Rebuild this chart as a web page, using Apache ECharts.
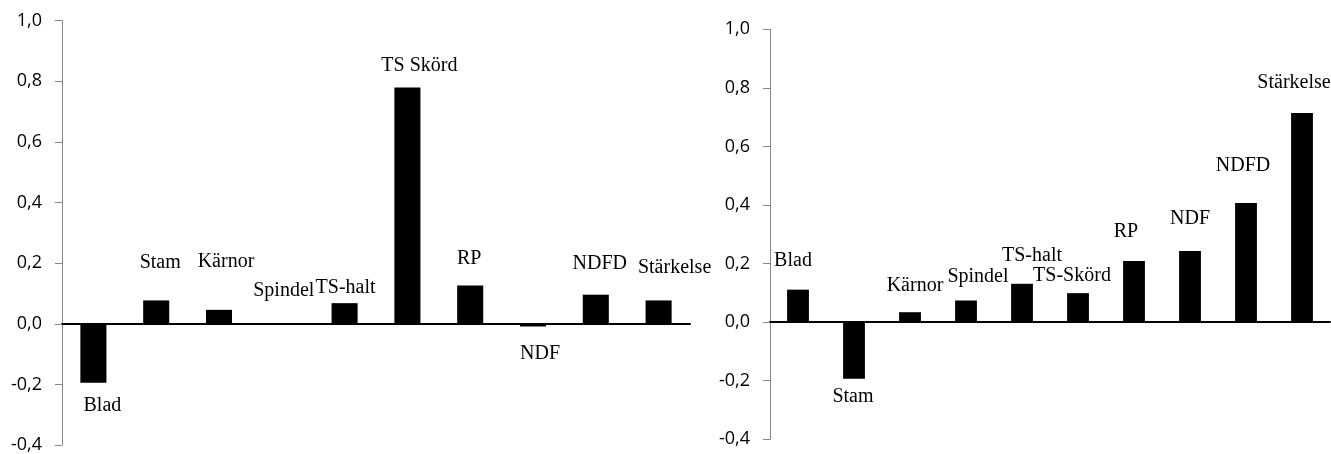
<!DOCTYPE html>
<html>
<head>
<meta charset="utf-8">
<script src="https://cdn.jsdelivr.net/npm/echarts@6/dist/echarts.min.js"></script>
<style>
html,body{margin:0;padding:0;background:#fff;}
#c{width:1331px;height:454px;}
</style>
</head>
<body>
<div id="c"></div>
<script>
// ---- data ----
const categoriesLeft = ['Blad','Stam','Kärnor','Spindel','TS-halt','TS Skörd','RP','NDF','NDFD','Stärkelse'];
const valuesLeft = [-0.195, 0.077, 0.046, 0.002, 0.068, 0.78, 0.126, -0.009, 0.096, 0.077];

const categoriesRight = ['Blad','Stam','Kärnor','Spindel','TS-halt','TS-Skörd','RP','NDF','NDFD','Stärkelse'];
const valuesRight = [0.111, -0.193, 0.034, 0.074, 0.131, 0.099, 0.209, 0.243, 0.407, 0.714];

const yMin = -0.4, yMax = 1.0, yStep = 0.2;

// ---- layout (label nudges, px) ----
const labelNudgeLeft = [[9,13],[4,-28],[7,-38],[2,-22],[1,-5],[12,-12],[-1,-17],[7,17],[4,-21],[16,-23]];
const labelNudgeRight = [[-5,-19],[-1,8],[5,-16],[12,-14],[10,-18],[-6,-7],[-8,-19],[0,-22],[-3,-27],[-8,-20]];

const chart = echarts.init(document.getElementById('c'), null, {renderer:'canvas'});

function buildData(values, nudges){
  return values.map((v,i)=>({
    value: v,
    label: {
      position: v < 0 ? 'bottom' : 'top',
      offset: nudges[i]
    }
  }));
}

const tickFmt = v => (Math.round(v*10)/10).toFixed(1).replace('.', ',');

function yAxisCfg(gi){
  return {
    type:'value', gridIndex:gi, min:yMin, max:yMax, interval:yStep,
    splitLine:{show:false},
    axisLine:{show:true, lineStyle:{color:'#868686', width:1}},
    axisTick:{show:true, length:7, inside:false, lineStyle:{color:'#868686'}},
    axisLabel:{formatter:tickFmt, margin:20, fontFamily:'Open Sans', fontSize:18, color:'#000'}
  };
}
function xAxisCfg(gi, cats){
  return {
    type:'category', gridIndex:gi, data:cats,
    axisLine:{show:true, onZero:true, lineStyle:{color:'#000', width:2}},
    axisTick:{show:false}, axisLabel:{show:false}, splitLine:{show:false}
  };
}
const labelStyle = {
  show:true, formatter:'{b}', distance:0,
  fontFamily:'Liberation Serif', fontSize:20, lineHeight:20, color:'#000'
};

chart.setOption({
  animation:false,
  grid:[
    {left:62, top:20.7, width:628, height:425},
    {left:770, top:29.3, width:560, height:410}
  ],
  xAxis:[xAxisCfg(0, categoriesLeft), xAxisCfg(1, categoriesRight)],
  yAxis:[yAxisCfg(0), yAxisCfg(1)],
  series:[
    {type:'bar', xAxisIndex:0, yAxisIndex:0, barWidth:'41.5%',
     itemStyle:{color:'#000'}, label:labelStyle,
     data:buildData(valuesLeft, labelNudgeLeft)},
    {type:'bar', xAxisIndex:1, yAxisIndex:1, barWidth:'39%',
     itemStyle:{color:'#000'}, label:labelStyle,
     data:buildData(valuesRight, labelNudgeRight)}
  ]
});
</script>
</body>
</html>
